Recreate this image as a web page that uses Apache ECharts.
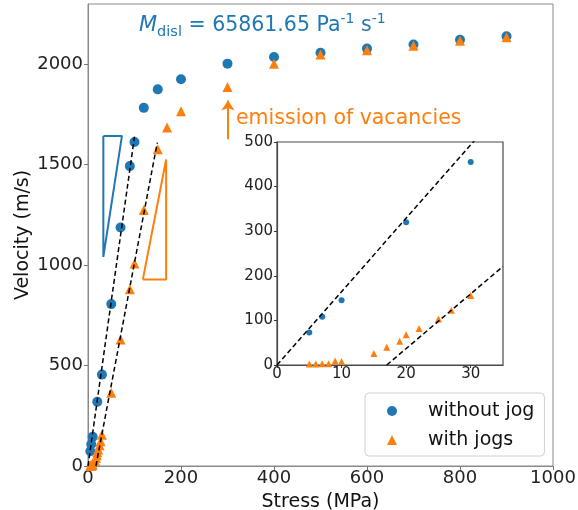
<!DOCTYPE html>
<html>
<head>
	<meta charset="utf-8">
	<title>Velocity vs stress</title>
	<script src="https://cdn.jsdelivr.net/npm/echarts@6/dist/echarts.min.js"></script>
</head>
<body style="margin:0">
	<div id="main" style="width: 578px;height:510px;"></div>
	<script type="text/javascript">
	// dislocation velocity (m/s) vs stress (MPa)
	var noJog = [
		[5, 73], [7, 108], [10, 145], [20, 320], [30, 455], [50, 806], [70, 1187],
		[90, 1493], [100, 1613], [120, 1783], [150, 1875], [200, 1925], [300, 2003],
		[400, 2036], [500, 2057], [600, 2078], [700, 2098], [800, 2122], [900, 2139]
	];
	var withJogs = [
		[5, 2], [6, 2], [7, 3], [8, 3], [9, 9], [10, 8], [15, 26], [17, 40], [19, 53],
		[20, 68], [22, 82], [25, 103], [27, 123], [30, 156], [50, 365], [70, 630],
		[90, 880], [100, 1008], [120, 1274], [150, 1577], [170, 1685], [200, 1766],
		[300, 1887], [400, 2003], [500, 2048], [600, 2070], [700, 2092], [800, 2117], [900, 2135]
	];

	// linear fits (end points)
	var fitNoJogMain = [[0, 0], [100, 1640]];
	var fitJogsMain = [[17, 0], [149, 1610]];
	var fitNoJogInset = [[0, 0], [35, 576]];
	var fitJogsInset = [[17, 0], [35, 221]];

	// slope triangles
	var triNoJog = [[33, 1643], [73, 1643], [33, 1041], [33, 1643]];
	var triJogs = [[118, 929], [168, 929], [168, 1526], [118, 929]];

	// arrow "emission of vacancies"
	var arrowPts = [[301, 1627], [301, 1820]];

	var mainXTicks = [0, 200, 400, 600, 800, 1000];
	var mainYTicks = [0, 500, 1000, 1500, 2000];
	var insetXTicks = [0, 10, 20, 30];
	var insetYTicks = [0, 100, 200, 300, 400, 500];

	var blue = '#1f77b4';
	var orange = '#ff7f0e';
	var font = 'DejaVu Sans';

	var myChart = echarts.init(document.getElementById('main'));

	function plain(v) { return String(v); }

	function dashed(data, xi, z) {
		return {
			type: 'line', xAxisIndex: xi, yAxisIndex: xi, data: data,
			symbol: 'none', silent: true, z: z,
			lineStyle: { color: '#000', width: 1.5, type: [5, 3] }
		};
	}
	function outline(data, color) {
		return {
			type: 'line', data: data, symbol: 'none', silent: true, z: 3,
			lineStyle: { color: color, width: 2 }
		};
	}

	option = {
		animation: false,
		textStyle: { fontFamily: font },
		grid: [
			{ left: 88, top: 4, width: 465, height: 462, outerBoundsMode: 'none', containLabel: false,
				show: true, borderColor: '#8a8a8a', borderWidth: 1 },
			{ left: 277, top: 142, width: 226, height: 223, outerBoundsMode: 'none', containLabel: false,
				show: true, backgroundColor: '#fff', borderColor: '#4a4a4a', borderWidth: 1.2, z: 5 }
		],
		xAxis: [{
			gridIndex: 0, type: 'value', min: 0, max: 1000,
			name: 'Stress (MPa)', nameLocation: 'middle', nameGap: 27, nameMoveOverlap: false,
			nameTextStyle: { fontSize: 19, color: '#111', fontFamily: font },
			axisLine: { lineStyle: { color: '#8a8a8a' } },
			axisTick: { length: 4, customValues: mainXTicks, lineStyle: { color: '#777' } },
			axisLabel: { fontSize: 18, color: '#222', margin: 3, customValues: mainXTicks, formatter: plain },
			splitLine: { show: false }
		}, {
			gridIndex: 1, type: 'value', min: 0, max: 35, z: 6,
			axisLine: { lineStyle: { color: '#4a4a4a', width: 1.2 } },
			axisTick: { length: 3, customValues: insetXTicks, lineStyle: { color: '#333' } },
			axisLabel: { fontSize: 15, color: '#222', margin: 2, customValues: insetXTicks, formatter: plain },
			splitLine: { show: false }
		}],
		yAxis: [{
			gridIndex: 0, type: 'value', min: 0, max: 2300,
			name: 'Velocity (m/s)', nameLocation: 'middle', nameGap: 55, nameMoveOverlap: false,
			nameTextStyle: { fontSize: 19, color: '#111', fontFamily: font },
			axisLine: { show: true, lineStyle: { color: '#8a8a8a' } },
			axisTick: { show: true, length: 4, customValues: mainYTicks, lineStyle: { color: '#777' } },
			axisLabel: { fontSize: 18, color: '#222', margin: 5, customValues: mainYTicks, formatter: plain },
			splitLine: { show: false }
		}, {
			gridIndex: 1, type: 'value', min: 0, max: 500, z: 6,
			axisLine: { show: true, lineStyle: { color: '#4a4a4a', width: 1.2 } },
			axisTick: { show: true, length: 3, customValues: insetYTicks, lineStyle: { color: '#333' } },
			axisLabel: { fontSize: 15, color: '#222', margin: 4, customValues: insetYTicks, formatter: plain },
			splitLine: { show: false }
		}],
		legend: {
			data: ['without jog', 'with jogs'],
			orient: 'vertical', left: 365, top: 393,
			padding: [7, 10, 5, 22], itemGap: 7,
			itemWidth: 10, itemHeight: 10,
			backgroundColor: '#fff', borderColor: '#d0d0d0', borderWidth: 1, borderRadius: 4,
			textStyle: { fontSize: 19, color: '#111', lineHeight: 22, padding: [0, 0, 0, 26], fontFamily: font },
			z: 10
		},
		graphic: [{
			type: 'text', left: 139, top: 12, z: 10,
			style: {
				text: '{m|M}{sub|disl}{t| = 65861.65 Pa}{sup|-1}{t| s}{sup|-1}',
				fill: blue,
				rich: {
					m: { fontSize: 21, fontStyle: 'italic', fontFamily: font, lineHeight: 28, color: blue },
					t: { fontSize: 20.5, fontFamily: font, lineHeight: 28, color: blue },
					sub: { fontSize: 14.5, fontFamily: font, lineHeight: 14, verticalAlign: 'bottom', color: blue },
					sup: { fontSize: 14, fontFamily: font, lineHeight: 20, verticalAlign: 'top', color: blue }
				}
			}
		}, {
			type: 'text', left: 236, top: 108, z: 10,
			style: { text: 'emission of vacancies', fill: orange, fontSize: 20.5, fontFamily: font }
		}],
		series: [
			{
				name: 'without jog', type: 'scatter', data: noJog, symbol: 'circle', symbolSize: 10,
				itemStyle: { color: blue, opacity: 1 }, z: 2
			},
			{
				name: 'with jogs', type: 'scatter', data: withJogs, symbol: 'triangle', symbolSize: 10,
				itemStyle: { color: orange, opacity: 1 }, z: 2
			},
			dashed(fitNoJogMain, 0, 4),
			dashed(fitJogsMain, 0, 4),
			outline(triNoJog, blue),
			outline(triJogs, orange),
			{
				type: 'lines', coordinateSystem: 'cartesian2d', silent: true, z: 3,
				symbol: ['none', 'arrow'], symbolSize: [8, 10],
				lineStyle: { color: orange, width: 2, opacity: 1 },
				data: [{ coords: arrowPts }]
			},
			{
				name: 'without jog', type: 'scatter', xAxisIndex: 1, yAxisIndex: 1, data: noJog,
				symbol: 'circle', symbolSize: 6, itemStyle: { color: blue, opacity: 1 }, z: 7
			},
			{
				name: 'with jogs', type: 'scatter', xAxisIndex: 1, yAxisIndex: 1, data: withJogs,
				symbol: 'triangle', symbolSize: 7, itemStyle: { color: orange, opacity: 1 }, z: 7
			},
			dashed(fitNoJogInset, 1, 8),
			dashed(fitJogsInset, 1, 8)
		]
	};

	myChart.setOption(option);
	</script>
</body>
</html>
